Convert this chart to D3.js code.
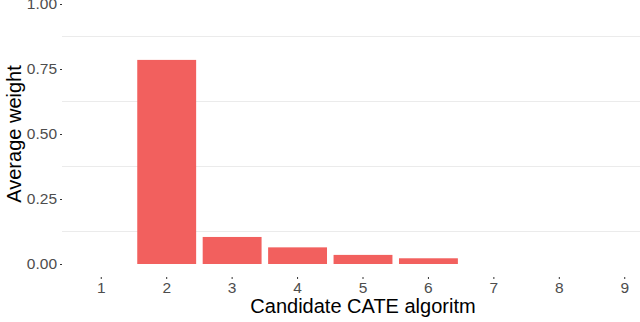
<!DOCTYPE html>
<html>
<head>
<meta charset="utf-8">
<script src="https://cdn.jsdelivr.net/npm/d3@7"></script>
<style>
html,body{margin:0;padding:0;background:#fff;}
svg{display:block;overflow:hidden;}
</style>
</head>
<body>
<svg id="chart" width="640" height="322"></svg>
<script>
const categories = ["1","2","3","4","5","6","7","8","9"];
const weights = [0, 0.785, 0.104, 0.064, 0.035, 0.022, 0, 0, 0];
const yTicks = [0, 0.25, 0.5, 0.75, 1.0];
const yMinorGrid = [0.125, 0.375, 0.625, 0.875];
const xTitle = "Candidate CATE algoritm";
const yTitle = "Average weight";

const svg = d3.select("#chart");
const font = "'Liberation Sans', Arial, Helvetica, sans-serif";
const pLeft = 62, pRight = 664, pTop = -9, pBottom = 277;

const x = d3.scaleBand().domain(categories).range([pLeft, pRight])
  .paddingInner(0.1).paddingOuter(0.15).align(0.5);
const y = d3.scaleLinear().domain([-0.05, 1.05]).range([pBottom, pTop]);

// minor gridlines
svg.append("g").selectAll("line").data(yMinorGrid).join("line")
  .attr("x1", pLeft).attr("x2", pRight)
  .attr("y1", d => y(d)).attr("y2", d => y(d))
  .attr("stroke", "#ebebeb").attr("stroke-width", 1.2);

// bars
svg.append("g").selectAll("rect").data(categories.map((c,i)=>({c, v: weights[i]})))
  .join("rect")
  .attr("x", d => x(d.c)).attr("width", x.bandwidth())
  .attr("y", d => y(d.v)).attr("height", d => y(0) - y(d.v))
  .attr("fill", "#f2605e");

// y axis
const gy = svg.append("g").attr("transform", `translate(${pLeft},0)`)
  .call(d3.axisLeft(y).tickValues(yTicks).tickFormat(d3.format(".2f")).tickSize(2).tickPadding(3));
gy.select(".domain").remove();
gy.selectAll(".tick line").attr("stroke", "#333").attr("stroke-width", 1);
gy.selectAll(".tick text").attr("fill", "#4d4d4d").style("font-family", font).style("font-size", "15.5px");

// x axis
const gx = svg.append("g").attr("transform", `translate(0,${pBottom})`)
  .call(d3.axisBottom(x).tickSize(2).tickPadding(3));
gx.select(".domain").remove();
gx.selectAll(".tick line").attr("stroke", "#333").attr("stroke-width", 1);
gx.selectAll(".tick text").attr("fill", "#4d4d4d").style("font-family", font).style("font-size", "15.5px");

// titles
svg.append("text").attr("x", (pLeft + pRight) / 2).attr("y", 313)
  .attr("text-anchor", "middle").style("font-family", font).style("font-size", "20px")
  .attr("fill", "#000").text(xTitle);
svg.append("text").attr("transform", `translate(21,${(y(0)+y(1))/2}) rotate(-90)`)
  .attr("text-anchor", "middle").style("font-family", font).style("font-size", "20px")
  .attr("fill", "#000").text(yTitle);
</script>
</body>
</html>
